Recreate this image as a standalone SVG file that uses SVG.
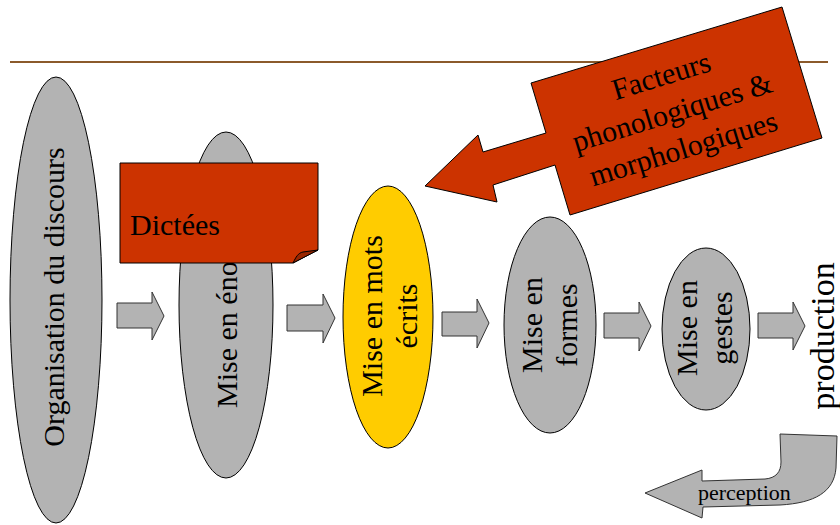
<svg xmlns="http://www.w3.org/2000/svg" width="840" height="525" viewBox="0 0 840 525">
<style>
text{font-family:"Liberation Serif","Times New Roman","DejaVu Serif",Times,serif;font-size:30px;fill:#000}
.g{fill:#B3B3B3;stroke:#000;stroke-width:1}
.y{fill:#FFCC00;stroke:#000;stroke-width:1}
.r{fill:#CC3300;stroke:#000;stroke-width:1}
.ba{fill:#B3B3B3;stroke:#333;stroke-width:1}
.m{text-anchor:middle}
</style>
<rect width="840" height="525" fill="#fff"/>
<line x1="10" y1="62" x2="828" y2="62" stroke="#8B5A2B" stroke-width="2"/>

<g id="n-organisation">
<ellipse class="g" cx="56" cy="300" rx="46" ry="223"/>
<text class="m" font-family="Liberation Serif, serif" transform="translate(64,297) rotate(-90)">Organisation du discours</text>
</g>

<g id="n-enonces">
<ellipse class="g" cx="226" cy="305" rx="47" ry="173"/>
<text font-family="Liberation Serif, serif" transform="translate(237,408) rotate(-90)">Mise en énoncés</text>
</g>

<g id="n-dictees">
<path class="r" d="M120,163 H318 V250 L293,263 H120 Z"/>
<path d="M293,263 C296,257 298,253 303,252 L318,250 Z" fill="#992600" stroke="#000" stroke-width="1"/>
<text font-family="Liberation Serif, serif" x="130" y="235">Dictées</text>
</g>

<g id="n-mots" font-family="Liberation Serif, serif">
<ellipse class="y" cx="388" cy="317" rx="45" ry="131"/>
<g transform="translate(382,316) rotate(-90)">
<text class="m" x="0" y="0">Mise en mots</text>
<text class="m" x="0" y="35">écrits</text>
</g>
</g>

<g id="n-formes">
<ellipse class="g" cx="550" cy="325" rx="46" ry="108"/>
<g transform="translate(542,325) rotate(-90)">
<text class="m" x="0" y="0">Mise en</text>
<text class="m" x="0" y="35">formes</text>
</g>
</g>

<g id="n-gestes">
<ellipse class="g" cx="706" cy="329" rx="44" ry="81"/>
<g transform="translate(697,328) rotate(-90)">
<text class="m" x="0" y="0">Mise en</text>
<text class="m" x="0" y="35">gestes</text>
</g>
</g>

<g id="n-production">
<text class="m" style="font-size:34px" transform="translate(834,336) rotate(-90)">production</text>
</g>

<g id="n-facteurs">
<path class="r" d="M531,83 L782,7 L822,138 L570,215 L555,165 L493,185 L497,202 L425,186 L478,135 L483,152 L546,133 Z"/>
<g transform="translate(676,111) rotate(-17)">
<text class="m" x="-4" y="-28">Facteurs</text>
<text class="m" x="-4" y="10">phonologiques &amp;</text>
<text class="m" x="-4" y="48">morphologiques</text>
</g>
</g>

<g id="n-perception">
<path class="ba" d="M780,434 L837,436 L836,468 C834,492 815,503 780,505 L703,507 L702,518 L645,493 L702,470 L702,481 L765,479 C776,478 781,472 781,462 Z"/>
<text x="698" y="500" style="font-size:22px">perception</text>
</g>

<g id="connectors">
<path class="ba" d="M117,303 H152 V292 L164,316 L152,340 V328 H117 Z"/>
<path class="ba" d="M287,305 H323 V294 L335,318 L323,343 V331 H287 Z"/>
<path class="ba" d="M442,312 H477 V299 L489,323 L477,348 V336 H442 Z"/>
<path class="ba" d="M604,313 H639 V302 L651,326 L639,351 V338 H604 Z"/>
<path class="ba" d="M758,313 H793 V302 L805,326 L793,350 V338 H758 Z"/>
</g>
</svg>
